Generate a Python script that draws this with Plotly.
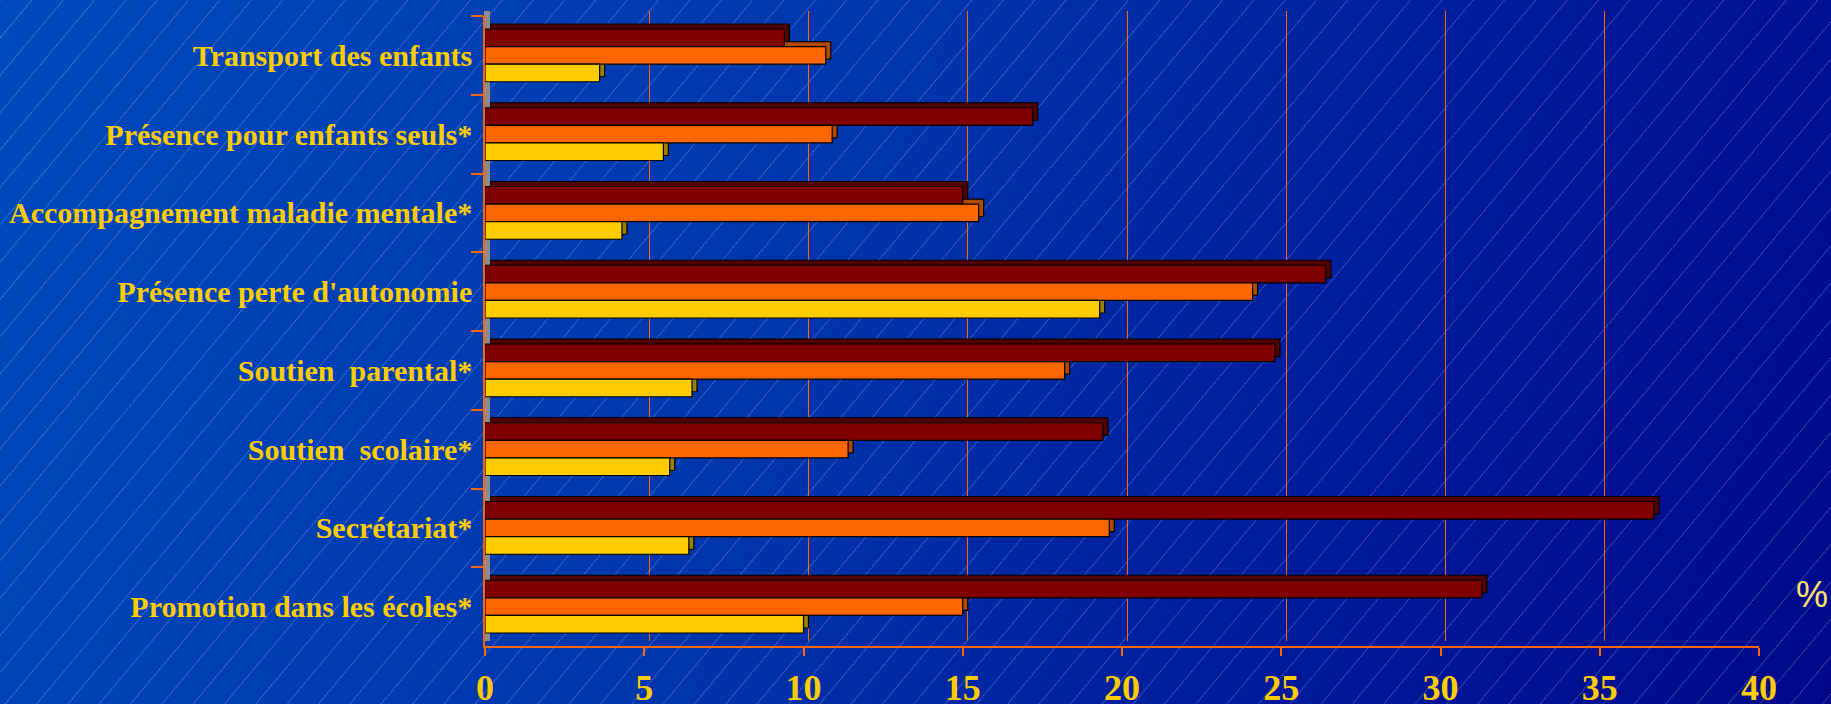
import base64
import plotly.graph_objects as go

# ---------------- data ----------------
categories = [
    "Transport des enfants",
    "Présence pour enfants seuls*",
    "Accompagnement maladie mentale*",
    "Présence perte d'autonomie",
    "Soutien\u00a0 parental*",
    "Soutien\u00a0 scolaire*",
    "Secrétariat*",
    "Promotion dans les écoles*",
]
serie_1 = [9.4, 17.2, 15.0, 26.4, 24.8, 19.4, 36.7, 31.3]   # dark red
serie_2 = [10.7, 10.9, 15.5, 24.1, 18.2, 11.4, 19.6, 15.0]  # orange
serie_3 = [3.6, 5.6, 4.3, 19.3, 6.5, 5.8, 6.4, 10.0]        # yellow
x_tickvals = [0, 5, 10, 15, 20, 25, 30, 35, 40]
x_ticktext = ["0", "5", "10", "15", "20", "25", "30", "35", "40"]
unit_label = "%"

series = [
    ("Série 1", serie_1, "#800000", "#520000"),
    ("Série 2", serie_2, "#FF6600", "#B04A00"),
    ("Série 3", serie_3, "#FFCC00", "#9C8000"),
]

# ---------------- geometry ----------------
W, H = 1831, 704
ML, MR, MT, MB = 485, 67, 11, 58
PW, PH = W - ML - MR, H - MT - MB
D = 5  # 3D depth in pixels

GOLD = "#FFCC00"
ORANGE = "#FF6600"

# ---------------- background (gradient + diagonal hatch) ----------------
svg = f"""<svg xmlns='http://www.w3.org/2000/svg' width='{W}' height='{H}' viewBox='0 0 {W} {H}' preserveAspectRatio='none'>
<defs>
<linearGradient id='g' gradientUnits='userSpaceOnUse' x1='0' y1='0' x2='{W}' y2='{H}'>
<stop offset='0' stop-color='#004ABD'/>
<stop offset='0.45' stop-color='#0034AB'/>
<stop offset='0.75' stop-color='#00189A'/>
<stop offset='1' stop-color='#000888'/>
</linearGradient>
<pattern id='p' width='24' height='20' patternUnits='userSpaceOnUse' patternTransform='rotate(40)'>
<line x1='0.5' y1='0' x2='0.5' y2='20' stroke='rgba(255,255,255,0.33)' stroke-width='1' stroke-dasharray='1.5 1'/>
</pattern>
</defs>
<rect width='{W}' height='{H}' fill='url(#g)'/>
<rect width='{W}' height='{H}' fill='url(#p)'/>
</svg>"""
bg_src = "data:image/svg+xml;base64," + base64.b64encode(svg.encode("utf-8")).decode("ascii")

fig = go.Figure()

# back plane: extrusion (depth) of the bars
for name, vals, col, dark in series:
    fig.add_trace(go.Bar(
        y=categories, x=vals, orientation="h", name=name,
        marker=dict(color=dark, line=dict(color="#000000", width=1.2)),
        xaxis="x", yaxis="y", hoverinfo="skip", showlegend=False,
    ))

# front plane: the bar faces
for name, vals, col, dark in series:
    fig.add_trace(go.Bar(
        y=categories, x=vals, orientation="h", name=name,
        marker=dict(color=col, line=dict(color="#000000", width=1.2)),
        xaxis="x2", yaxis="y2", showlegend=False,
    ))

fig.update_layout(
    width=W, height=H,
    autosize=False,
    margin=dict(l=ML, r=MR, t=MT, b=MB, pad=0, autoexpand=False),
    paper_bgcolor="#0030A8",
    plot_bgcolor="rgba(0,0,0,0)",
    barmode="group",
    bargap=0.33,
    bargroupgap=0,
    showlegend=False,
    images=[dict(
        source=bg_src, xref="paper", yref="paper",
        x=-ML / PW, y=1 + MT / PH, sizex=W / PW, sizey=H / PH,
        xanchor="left", yanchor="top", sizing="stretch", layer="below",
    )],
    # back plane axes
    xaxis=dict(
        domain=[D / PW, 1], anchor="y", range=[0, 40], automargin=False,
        tickvals=x_tickvals, showticklabels=False, ticks="",
        showgrid=True, gridcolor=ORANGE, gridwidth=1.2,
        zeroline=False, showline=False, fixedrange=True,
    ),
    yaxis=dict(
        domain=[D / PH, 1], anchor="x", type="category", automargin=False,
        categoryorder="array", categoryarray=categories,
        autorange="reversed", showticklabels=False, ticks="",
        showgrid=False, zeroline=False,
        showline=True, linecolor="#8C8C8C", linewidth=6, fixedrange=True,
    ),
    # front plane axes
    xaxis2=dict(
        domain=[0, 1 - D / PW], anchor="y2", range=[0, 40], automargin=False,
        tickvals=x_tickvals, ticktext=x_ticktext,
        ticks="outside", ticklen=8, tickwidth=1.5, tickcolor=ORANGE,
        tickfont=dict(family="Liberation Serif", size=36, color=GOLD, weight="bold"),
        ticklabelstandoff=1,
        showgrid=False, zeroline=False,
        showline=True, linecolor=ORANGE, linewidth=1.5, fixedrange=True,
    ),
    yaxis2=dict(
        domain=[0, 1 - D / PH], anchor="x2", type="category", automargin=False,
        categoryorder="array", categoryarray=categories,
        autorange="reversed",
        ticks="outside", ticklen=12, tickwidth=1.5, tickcolor=ORANGE,
        tickson="boundaries", ticklabelstandoff=5,
        tickfont=dict(family="Liberation Serif", size=30, color=GOLD, weight="bold"),
        showgrid=False, zeroline=False,
        showline=True, linecolor=ORANGE, linewidth=1.5, fixedrange=True,
    ),
    annotations=[dict(
        text=unit_label, xref="paper", yref="paper",
        x=(1812 - ML) / PW, y=(H - MB - 594) / PH,
        xanchor="center", yanchor="middle", showarrow=False,
        font=dict(family="Liberation Sans", size=36, color="#FFE26B"),
    )],
)

fig.write_html("out.html")
